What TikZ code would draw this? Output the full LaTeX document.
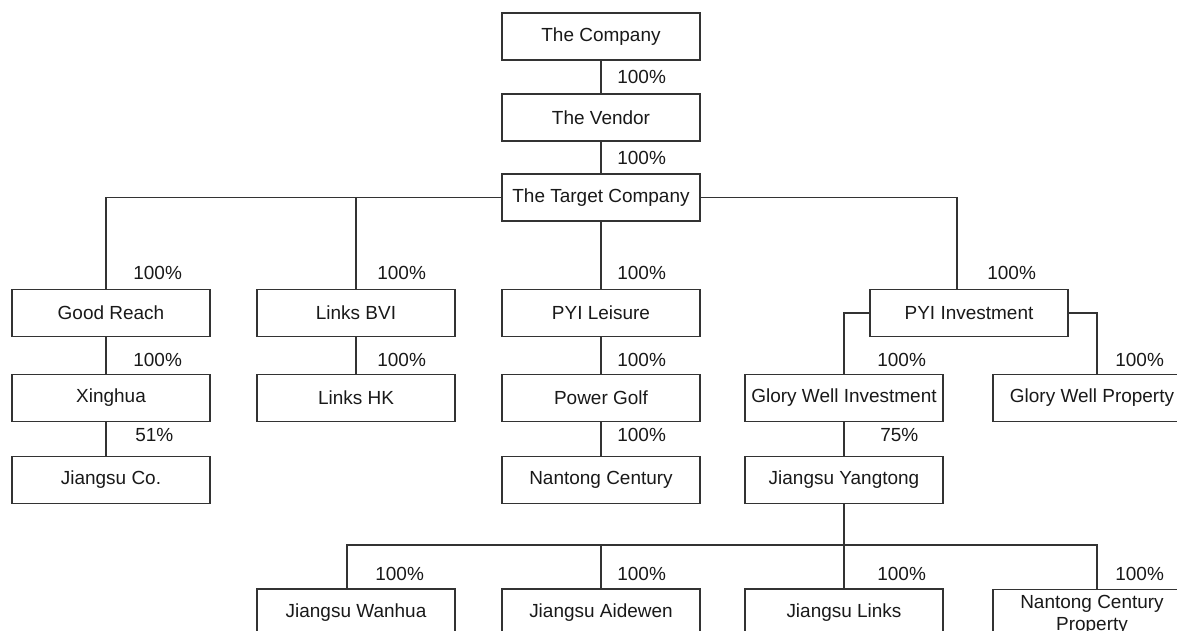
\documentclass[tikz,border=0pt]{standalone}
\usepackage{fontspec}
\setmainfont{Liberation Sans}
\usetikzlibrary{positioning,calc}

\begin{document}
\begin{tikzpicture}[
    entity/.style={
        rectangle, draw=black!80, line width=0.6pt,
        minimum width=3.96cm, minimum height=0.94cm, inner sep=2pt,
        font=\fontsize{10.8}{12.5}\selectfont, text=black!90
    },
    pct/.style={anchor=west, inner sep=0pt, font=\fontsize{10.8}{12.5}\selectfont, text=black!90},
    link/.style={draw=black!80, line width=0.6pt}
]
\useasboundingbox (0,0) rectangle (23.54,12.62);

% top chain
\node[entity] (company) at (12.02,11.89) {The Company};
\node[entity] (vendor) at (12.02,10.27) {The Vendor};
\node[entity] (target) at (12.02,8.67) {The Target Company};

% first tier
\node[entity] (goodreach) at (2.22,6.36) {Good Reach};
\node[entity] (linksbvi) at (7.12,6.36) {Links BVI};
\node[entity] (pyileisure) at (12.02,6.36) {PYI Leisure};
\node[entity] (pyiinv) at (19.38,6.36) {PYI Investment};

% second tier
\node[entity] (xinghua) at (2.22,4.66) {Xinghua};
\node[entity] (linkshk) at (7.12,4.66) {Links HK};
\node[entity] (powergolf) at (12.02,4.66) {Power Golf};
\node[entity] (glorywi) at (16.88,4.66) {Glory Well Investment};
\node[entity] (glorywp) at (21.84,4.66) {Glory Well Property};

% third tier
\node[entity] (jiangsuco) at (2.22,3.02) {Jiangsu Co.};
\node[entity] (nantong) at (12.02,3.02) {Nantong Century};
\node[entity] (yangtong) at (16.88,3.02) {Jiangsu Yangtong};

% fourth tier
\node[entity] (wanhua) at (7.12,0.37) {Jiangsu Wanhua};
\node[entity] (aidewen) at (12.02,0.37) {Jiangsu Aidewen};
\node[entity] (jslinks) at (16.88,0.37) {Jiangsu Links};
\node[entity, anchor=north, align=center, inner ysep=3pt] (ncproperty) at (21.84,0.84) {Nantong Century\\Property};

% holding lines
\draw[link] (company) -- (vendor);
\draw[link] (vendor) -- (target);
\draw[link] (target.west) -| ([xshift=-0.1cm]goodreach.north);
\draw[link] (target.west) -| (linksbvi.north);
\draw[link] (target) -- (pyileisure);
\draw[link] (target.east) -| ([xshift=-0.24cm]pyiinv.north);
\draw[link] ([xshift=-0.1cm]goodreach.south) -- ([xshift=-0.1cm]xinghua.north);
\draw[link] ([xshift=-0.1cm]xinghua.south) -- ([xshift=-0.1cm]jiangsuco.north);
\draw[link] (linksbvi) -- (linkshk);
\draw[link] (pyileisure) -- (powergolf);
\draw[link] (powergolf) -- (nantong);
\draw[link] (pyiinv.west) -| (glorywi.north);
\draw[link] (pyiinv.east) -| ([xshift=0.1cm]glorywp.north);
\draw[link] (glorywi) -- (yangtong);
\coordinate (jybus) at ($(yangtong.south)+(0,-0.82)$);
\draw[link] (yangtong.south) -- (jybus);
\draw[link] (jybus) -| ([xshift=-0.18cm]wanhua.north);
\draw[link] (jybus) -| (aidewen.north);
\draw[link] (jybus) -- (jslinks.north);
\draw[link] (jybus) -| ([xshift=0.1cm]ncproperty.north);

% share labels
\node[pct] (pvendor) at (12.34,11.08) {100\%};
\node[pct] (ptarget) at (12.34,9.46) {100\%};
\node[pct] (pgood) at (2.66,7.16) {100\%};
\node[pct] (pbvi) at (7.54,7.16) {100\%};
\node[pct] (pleisure) at (12.34,7.16) {100\%};
\node[pct] (pinv) at (19.74,7.16) {100\%};
\node[pct] (pxing) at (2.66,5.42) {100\%};
\node[pct] (phk) at (7.54,5.42) {100\%};
\node[pct] (pgolf) at (12.34,5.42) {100\%};
\node[pct] (pgwi) at (17.54,5.42) {100\%};
\node[pct] (pgwp) at (22.30,5.42) {100\%};
\node[pct] (pjco) at (2.70,3.92) {51\%};
\node[pct] (pnan) at (12.34,3.92) {100\%};
\node[pct] (pyang) at (17.60,3.92) {75\%};
\node[pct] (pwan) at (7.50,1.14) {100\%};
\node[pct] (paide) at (12.34,1.14) {100\%};
\node[pct] (plinks) at (17.54,1.14) {100\%};
\node[pct] (pncp) at (22.30,1.14) {100\%};

\end{tikzpicture}
\end{document}
